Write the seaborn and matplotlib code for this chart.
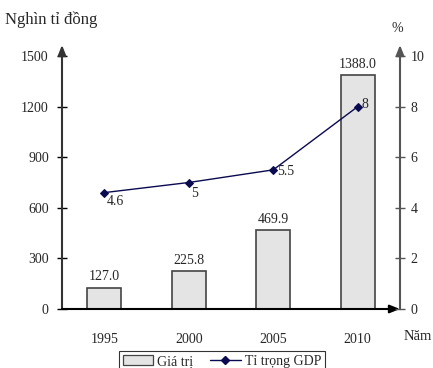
import matplotlib
matplotlib.use("Agg")
import matplotlib.pyplot as plt
from matplotlib.lines import Line2D
from matplotlib.patches import Patch
import seaborn as sns
import pandas as pd

years = ["1995", "2000", "2005", "2010"]
gia_tri = [127.0, 225.8, 469.9, 1388.0]
ti_trong = [4.6, 5, 5.5, 8]
ti_trong_labels = ["4.6", "5", "5.5", "8"]
left_ticks = [0, 300, 600, 900, 1200, 1500]
right_ticks = [0, 2, 4, 6, 8, 10]

sns.set_theme(style="white")
plt.rcParams["font.family"] = ["Liberation Serif", "DejaVu Serif"]

W, H = 433, 368
fig = plt.figure(figsize=(W / 100, H / 100), dpi=100)
ax_l, ax_r, ax_b, ax_t = 62, 400, 309, 45
ax = fig.add_axes([ax_l / W, 1 - ax_b / H, (ax_r - ax_l) / W, (ax_b - ax_t) / H])

df = pd.DataFrame({"year": years, "value": gia_tri})
sns.barplot(data=df, x="year", y="value", ax=ax, color="#e4e4e4",
            edgecolor="#444444", linewidth=1.2, width=0.4, saturation=1)

ymax = 1500 * (ax_b - ax_t) / (ax_b - 56)
ax.set_ylim(0, ymax)
ax.set_xlim(-0.5, 3.5)
ax.set_yticks(left_ticks)
ax.set_xticks(range(len(years)))
ax.set_xticklabels(years)
ax.set_xticks([0.5, 1.5, 2.5], minor=True)
ax.set_xlabel("")
ax.set_ylabel("")

for i, v in enumerate(gia_tri):
    ax.text(i, v + 25, f"{v:.1f}", ha="center", va="bottom", fontsize=10)

ax2 = ax.twinx()
x_num = list(range(len(years)))
sns.lineplot(x=x_num, y=ti_trong, ax=ax2, color="#0a0a50", marker="D",
             markersize=4.5, markeredgecolor="#0a0a50", linewidth=1.0)
ax2.set_ylim(0, 10 * (ax_b - ax_t) / (ax_b - 56))
ax2.set_yticks(right_ticks)
ax2.set_xlim(-0.5, 3.5)

offsets = [(0.03, -0.35, "left", "center"), (0.03, -0.45, "left", "center"),
           (0.05, -0.05, "left", "center"), (0.05, 0.1, "left", "center")]
for i, (v, lab) in enumerate(zip(ti_trong, ti_trong_labels)):
    dx, dy, ha, va = offsets[i]
    ax2.text(i + dx, v + dy, lab, ha=ha, va=va, fontsize=10)

for a in (ax, ax2):
    for s in a.spines.values():
        s.set_visible(False)

ax.tick_params(axis="y", direction="inout", length=7, width=1, color="black",
               labelsize=10, pad=6)
ax.tick_params(axis="x", which="major", length=0, labelsize=10, pad=17)
ax.tick_params(axis="x", which="minor", direction="inout", length=7, width=1, color="black")
ax2.tick_params(axis="y", direction="inout", length=7, width=1, color="#555555",
                labelsize=10, pad=4)

# axis lines with arrowheads
arrow_kw = dict(arrowstyle="-|>,head_length=0.5,head_width=0.2", lw=1.5, color="black",
                shrinkA=0, shrinkB=0)
ax.annotate("", xy=(0, 1), xytext=(0, 0), xycoords="axes fraction",
            arrowprops=dict(arrow_kw, color="#333333"))
ax.annotate("", xy=(1, 0), xytext=(0, 0), xycoords="axes fraction", arrowprops=arrow_kw)
ax.annotate("", xy=(1, 1), xytext=(1, 0), xycoords="axes fraction",
            arrowprops=dict(arrow_kw, color="#555555"))

fig.text(5 / W, 1 - 20 / H, "Nghìn tỉ đồng", fontsize=12, ha="left", va="center")
fig.text(397 / W, 1 - 28 / H, "%", fontsize=10, ha="center", va="center")
fig.text(432 / W, 1 - 336 / H, "Năm", fontsize=10.5, ha="right", va="center")

handles = [Patch(facecolor="#e4e4e4", edgecolor="#444444", linewidth=0.9),
           Line2D([], [], color="#0a0a50", marker="D", markersize=4, linewidth=1.0)]
leg = fig.legend(handles, ["Giá trị", "Tỉ trọng GDP"], loc="upper center",
                 bbox_to_anchor=(222 / W, 1 - 344 / H), ncol=2, frameon=True,
                 fancybox=False, edgecolor="black", fontsize=10, handlelength=2.2,
                 handletextpad=0.3, columnspacing=1.2, borderpad=0.3)
leg.get_frame().set_linewidth(0.8)

fig.savefig("out.png", dpi=100)
